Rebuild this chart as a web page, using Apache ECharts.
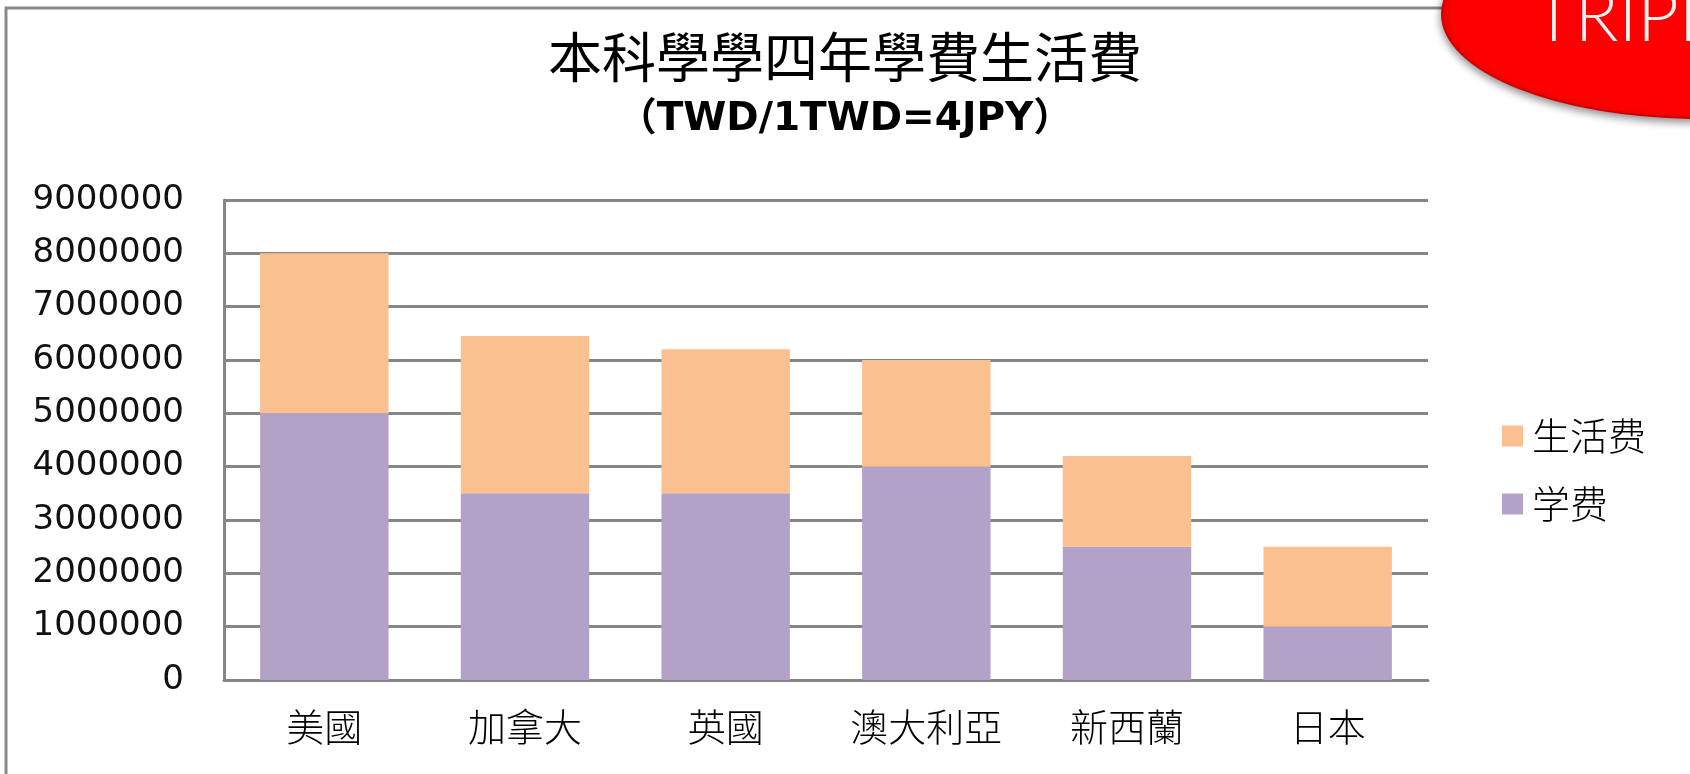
<!DOCTYPE html>
<html>
<head>
<meta charset="utf-8">
<script src="https://cdn.jsdelivr.net/npm/echarts@6/dist/echarts.min.js"></script>
<style>html,body{margin:0;padding:0;background:#fff;}#c{width:1690px;height:774px;}</style>
</head>
<body>
<div id="c"></div>
<script>
const categories = ['美國', '加拿大', '英國', '澳大利亞', '新西蘭', '日本'];
const tuition = [5000000, 3500000, 3500000, 4000000, 2500000, 1000000];
const living = [3000000, 2950000, 2700000, 2000000, 1700000, 1500000];
const titleText = '本科學學四年學費生活費';
const subtitleText = '（TWD/1TWD=4JPY）';
const seriesNames = ['学费', '生活费'];
const badgeText = 'TRIPI';

const chart = echarts.init(document.getElementById('c'));
chart.setOption({
  animation: false,
  backgroundColor: '#ffffff',
  title: {
    text: titleText,
    subtext: subtitleText,
    left: 840, top: 25, textAlign: 'center',
    itemGap: 16,
    textStyle: { fontFamily: 'Noto Sans CJK TC', fontSize: 54, fontWeight: 'normal', color: '#000' },
    subtextStyle: { fontFamily: '"DejaVu Sans", "Noto Sans CJK TC"', fontSize: 39, fontWeight: 'bold', color: '#000' }
  },
  legend: {
    data: ['生活费', '学费'],
    orient: 'vertical',
    left: 1497, top: 412,
    itemWidth: 21, itemHeight: 21, itemGap: 30,
    icon: 'rect',
    textStyle: { fontFamily: 'Noto Sans CJK SC', fontSize: 38, fontWeight: 300, color: '#000', padding: [0, 0, 0, 4] }
  },
  grid: { left: 224, right: 262, top: 200, bottom: 94, containLabel: false },
  xAxis: {
    type: 'category', data: categories,
    axisLine: { lineStyle: { color: '#868686', width: 3 } },
    axisTick: { show: false },
    axisLabel: { fontFamily: 'Noto Sans CJK TC', fontSize: 38, fontWeight: 300, color: '#000', margin: 28 }
  },
  yAxis: {
    type: 'value', min: 0, max: 9000000, interval: 1000000,
    axisLine: { show: true, lineStyle: { color: '#868686', width: 3 } },
    axisTick: { show: false },
    splitLine: { lineStyle: { color: '#868686', width: 3 } },
    axisLabel: { fontFamily: 'DejaVu Sans', fontSize: 34, color: '#111', margin: 40,
      formatter: function (v) { return String(v); } }
  },
  series: [
    { name: seriesNames[0], type: 'bar', stack: 'total', data: tuition, barWidth: '64%',
      itemStyle: { color: '#B3A2C7' } },
    { name: seriesNames[1], type: 'bar', stack: 'total', data: living, barWidth: '64%',
      itemStyle: { color: '#FAC090' } }
  ],
  graphic: [
    { type: 'rect', shape: { x: 6, y: 8, width: 1720, height: 800 }, z: -10,
      style: { fill: 'none', stroke: '#8a8a8a', lineWidth: 3 } },
    { type: 'ellipse', shape: { cx: 1700, cy: 14, rx: 258, ry: 104 }, z: 100,
      style: { fill: '#FF0000', stroke: '#D00000', lineWidth: 2,
        shadowBlur: 8, shadowOffsetY: 3, shadowColor: 'rgba(0,0,0,0.45)' } },
    { type: 'text', x: 1533, y: 54, z: 101,
      style: { text: badgeText, fontFamily: 'Lato', fontWeight: 300, fontSize: 72, fill: '#F2F2F2',
        verticalAlign: 'bottom' } }
  ]
});
</script>
</body>
</html>
